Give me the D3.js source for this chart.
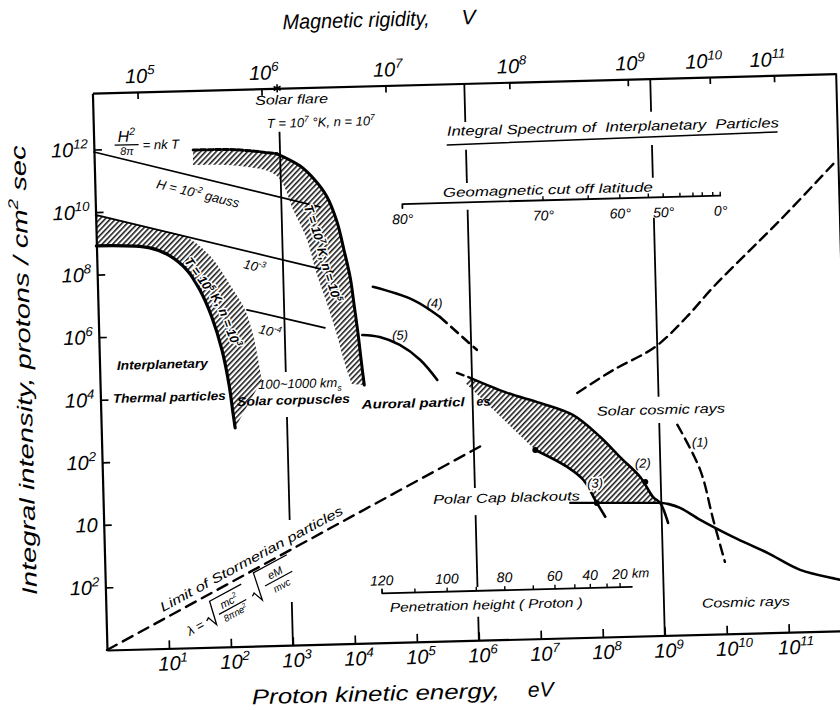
<!DOCTYPE html>
<html><head><meta charset="utf-8">
<script src="https://cdn.jsdelivr.net/npm/d3@7/dist/d3.min.js"></script>
<style>
html,body{margin:0;padding:0;background:#fff;overflow:hidden}
svg{display:block}
text{font-family:'Liberation Sans',Arial,sans-serif;font-style:italic;fill:#000;white-space:pre}
</style></head><body>
<svg id="chart" width="840" height="710" xmlns="http://www.w3.org/2000/svg"></svg>
<script>
// ================= DATA (log10 E [eV], log10 I [protons/cm2 sec]) =================
const bottomTickExps = [1,2,3,4,5,6,7,8,9,10,11];
const leftTickExps   = [12,10,8,6,4,2,0,-2];
const leftTickLabels = ["10^{12}","10^{10}","10^{8}","10^{6}","10^{4}","10^{2}","10","10^{2}"];
const rigidityTicks  = [1e5,1e6,1e7,1e8,1e9,1e10,1e11];
const rigidityLabels = ["10^{5}","10^{6}","10^{7}","10^{8}","10^{9}","10^{10}","10^{11}"];
const PROTON_MASS_EV = 938.272e6;

const thermalCurve = [[0,8.92],[0.86,8.81],[1.18,8.54],[1.45,8.07],[1.65,7.42],[1.83,6.55],[1.98,5.49],[2.08,4.37],[2.13,3.50],[2.16,2.99]];
const thermalBandOuter = [[0,9.91],[0.8,9.48],[1.45,9.13],[1.83,8.50],[2.17,7.46],[2.37,6.75],[2.49,5.94],[2.56,5.14],[2.61,4.50]];
const thermalBandText = [[1.39,8.40],[1.70,7.49],[1.90,6.93],[2.05,6.12],[2.20,5.32],[2.28,4.6]];
const corpuscleBandOuter = [[1.60,11.90],[2.31,11.87],[2.95,11.71],[3.32,11.30],[3.55,10.84],[3.74,10.29],[3.89,9.48],[3.99,8.58],[4.08,7.68],[4.13,6.82],[4.18,5.92],[4.22,5.05],[4.26,4.25]];
const corpuscleBandInner = [[4.06,4.29],[3.96,4.91],[3.83,5.94],[3.69,6.90],[3.53,7.90],[3.40,8.93],[3.20,9.84],[2.94,11.0],[2.35,11.35],[1.59,11.42]];
const corpuscleBandText = [[3.35,10.05],[3.50,9.09],[3.64,7.96],[3.78,7.0],[3.91,5.87],[3.98,5.23],[4.02,4.6]];
const fieldLines = [[[0,11.92],[3.62,9.98]], [[0,9.91],[3.80,7.89]], [[2.40,6.75],[3.65,6.11]]];
const curve4Solid  = [[4.44,7.38],[5.08,6.93],[5.51,6.36]];
const curve4Dashed = [[5.51,6.36],[6.09,5.28]];
const curve5 = [[4.25,5.85],[4.53,5.77],[4.85,5.50],[5.17,5.01],[5.44,4.35]];
const auroralUpperDash = [[5.76,4.56],[5.95,4.41]];
const auroralUpper = [[5.97,4.39],[6.56,3.88],[7.09,3.53],[7.61,3.12],[8.04,2.40],[8.35,1.74],[8.67,1.08],[8.87,0.43],[8.98,0.24],[9.10,-0.41]];
const auroralHatchCorner = [5.89,4.23];
const curve3 = [[6.99,2.03],[7.50,1.46],[7.75,1.04],[7.96,0.29],[8.09,-0.16]];
const plateau = [[7.53,0.31],[8.98,0.24]];
const cosmicRays = [[8.98,0.24],[9.12,0.19],[9.30,0.06],[9.62,-0.34],[10.14,-0.91],[10.69,-1.45],[11.21,-2.02],[11.85,-2.37],[12,-2.45]];
const curve1 = [[9.29,2.72],[9.64,1.26],[9.83,-0.35],[10.0,-1.70]];
const stormerLimit = [[0,-4],[6.2,2.29]];
const solarCosmicUpper = [[7.69,3.82],[8.28,4.52],[8.97,5.23],[9.49,6.16],[9.93,7.09],[10.49,8.15],[11.04,9.18],[11.95,10.99]];
const markedPoints = [[6.99,2.03],[7.96,0.29],[8.75,0.92]];
const solarFlarePoint = [2.98,13.8];
const latitudeDeg  = [80,70,65,60,55,50,45,40,30,20,0];
const latitudeLogE = [4.95,7.22,7.95,8.46,8.92,9.16,9.43,9.64,9.79,9.96,10.08];
const latitudeLabeled = [80,70,60,50,0];
const latitudeLevel = 10.0;
const penetrationKm   = [120,110,100,90,80,70,60,50,40,30,20];
const penetrationLogE = [4.46,4.99,5.51,5.98,6.44,6.90,7.25,7.57,7.82,8.09,8.30];
const penetrationLabeled = [120,100,80,60,40,20];
const penetrationLevel = -2.42;
const penetrationEnd = 8.49;
const dividerLines = [
  {e:3, segs:[[12.41,4.73],[3.29,0.0],[-2.62,-4]]},
  {e:6, segs:[[13.8,12.57],[11.68,10.62],[9.76,0.87],[0.0,-2.30],[-3.25,-4]]},
  {e:9, segs:[[13.8,12.74],[11.68,10.63],[9.35,3.63],[2.79,-4]]}
];
const rightFrameBottom = 5.71;

// ================= SCALES =================
const W = 744, H = 557;
const x = d3.scaleLog().domain([1, 1e12]).range([0, W]);
const y = d3.scaleLog().domain([1e-4, Math.pow(10, 13.8)]).range([H, 0]);
const X = e => x(Math.pow(10, e)), Y = i => y(Math.pow(10, i));
const pt = d => `${X(d[0])},${Y(d[1])}`;
const L = (pts, curve) => d3.line().x(d => X(d[0])).y(d => Y(d[1]))
  .curve(curve || d3.curveCatmullRom.alpha(0.5))(pts);
const rigidityToEnergy = R => R*R / (Math.sqrt(R*R + PROTON_MASS_EV*PROTON_MASS_EV) + PROTON_MASS_EV);

const svg = d3.select("#chart");
svg.append("rect").attr("width",840).attr("height",710).attr("fill","#fff");
const defs = svg.append("defs");
const pat = defs.append("pattern").attr("id","hatch").attr("patternUnits","userSpaceOnUse")
  .attr("width",3.8).attr("height",3.8).attr("patternTransform","rotate(45)");
pat.append("rect").attr("width",3.8).attr("height",3.8).attr("fill","#fff");
pat.append("line").attr("x1",0.8).attr("y1",0).attr("x2",0.8).attr("y2",3.8).attr("stroke","#000").attr("stroke-width",1.4);

const g = svg.append("g").attr("transform", `rotate(-1.5,107,650) translate(107,${650-H})`);

function strokePath(d, w, dash) {
  return g.append("path").attr("d", d).attr("fill","none").attr("stroke","#000")
    .attr("stroke-width", w).attr("stroke-linecap","round").attr("stroke-linejoin","round")
    .attr("stroke-dasharray", dash || null);
}
function parseRich(s) {
  const parts = []; const re = /([\^_])\{([^}]*)\}/g; let last = 0, m;
  while ((m = re.exec(s))) {
    if (m.index > last) parts.push({t: s.slice(last, m.index)});
    parts.push({t: m[2], k: m[1] === "^" ? "sup" : "sub"});
    last = re.lastIndex;
  }
  if (last < s.length) parts.push({t: s.slice(last)});
  return parts;
}
function richText(sel, s, fs) {
  let shift = 0;
  parseRich(s).forEach(p => {
    const target = p.k === "sup" ? -0.42*fs : p.k === "sub" ? 0.3*fs : 0;
    const ts = sel.append("tspan").text(p.t);
    if (target - shift !== 0) ts.attr("dy", target - shift);
    if (p.k) ts.attr("font-size", fs*0.66);
    shift = target;
  });
  return sel;
}
function addText(px, py, s, o) {
  o = o || {};
  const make = halo => {
    const t = g.append("text").attr("font-size", o.fs || 13)
      .attr("text-anchor", o.anchor || "start")
      .attr("transform", `translate(${px},${py})` + (o.rot ? ` rotate(${o.rot})` : ""));
    if (o.bold) t.attr("font-weight","bold");
    if (o.len) t.attr("textLength", o.len).attr("lengthAdjust","spacingAndGlyphs");
    if (halo) t.style("fill","#fff").style("stroke","#fff").attr("stroke-width",3.5).attr("stroke-linejoin","round");
    richText(t, s, o.fs || 13);
    return t;
  };
  if (o.halo) make(true);
  return make(false);
}

// ================= HATCHED AREAS =================
g.append("path").attr("fill","url(#hatch)")
  .attr("d", L(thermalBandOuter) + L(thermalCurve.slice().reverse()).replace(/^M/,"L") + "Z");
g.append("path").attr("fill","url(#hatch)")
  .attr("d", L(corpuscleBandOuter) + L(corpuscleBandInner).replace(/^M/,"L") + "Z");
g.append("path").attr("fill","url(#hatch)")
  .attr("d", "M" + pt(auroralHatchCorner) + L(auroralUpper.slice(0,9)).replace(/^M/,"L")
    + "L" + pt(curve3[3]) + L(curve3.slice(0,4).reverse()).replace(/^M/,"L") + "Z");

// ================= FRAME & AXES =================
const axB = g.append("g").attr("transform",`translate(0,${H})`)
  .call(d3.axisBottom(x).tickValues(bottomTickExps.map(e => Math.pow(10,e))).tickSizeInner(-8).tickSizeOuter(0).tickFormat(() => ""));
const axL = g.append("g")
  .call(d3.axisLeft(y).tickValues(leftTickExps.map(e => Math.pow(10,e))).tickSizeInner(-8).tickSizeOuter(0).tickFormat(() => ""));
const topE = rigidityTicks.map(rigidityToEnergy);
const axT = g.append("g")
  .call(d3.axisTop(x).tickValues(topE).tickSizeInner(-7).tickSizeOuter(0).tickFormat(() => ""));
[axB, axL, axT].forEach(a => {
  a.select(".domain").attr("stroke","#000").attr("stroke-width",2.2);
  a.selectAll(".tick line").attr("stroke","#000").attr("stroke-width",1.7);
  a.selectAll(".tick text").remove();
});
g.append("line").attr("x1",W).attr("x2",W).attr("y1",0).attr("y2",Y(rightFrameBottom))
  .attr("stroke","#000").attr("stroke-width",2);

bottomTickExps.forEach(e => addText(X(e) - 11, H + 22, "10^{" + e + "}", {fs:20}));
leftTickExps.forEach((e, k) => addText(-6, Y(e) + 7, leftTickLabels[k], {fs:20, anchor:"end"}));
topE.forEach((E, k) => addText(x(E) - (rigidityLabels[k].length > 6 ? 24 : 12), -9, rigidityLabels[k], {fs:20}));

addText(192, -59, "Magnetic rigidity,", {fs:21, len:147});
addText(371, -59, "V", {fs:21});
addText(143.6, H + 58, "Proton kinetic energy,", {fs:21, len:248});
addText(419.6, H + 58, "eV", {fs:21});
g.append("text").attr("font-size",21).attr("transform",`translate(-68.6,${H-56.8}) rotate(-90)`)
  .attr("textLength",450).attr("lengthAdjust","spacingAndGlyphs")
  .call(t => richText(t, "Integral intensity, protons / cm^{2} sec", 21));

// ================= VERTICAL DIVIDERS =================
dividerLines.forEach(v => v.segs.forEach(s =>
  g.append("line").attr("x1",X(v.e)).attr("x2",X(v.e)).attr("y1",Y(s[0])).attr("y2",Y(s[1]))
    .attr("stroke","#000").attr("stroke-width",1.8)));

// ================= CURVES =================
fieldLines.forEach(p => strokePath(L(p, d3.curveLinear), 1.7));
strokePath(L(thermalCurve), 3.2);
strokePath(L(corpuscleBandOuter.slice(0,3)), 3, "5,2.5");
strokePath(L(corpuscleBandOuter.slice(2)), 3);
strokePath(L(curve4Solid), 2.6);
strokePath(L(curve4Dashed, d3.curveLinear), 2.6, "9,6");
strokePath(L(curve5), 2.6);
strokePath(L(auroralUpperDash, d3.curveLinear), 2.4, "7,5");
strokePath(L(auroralUpper), 2.6);
strokePath(L(curve3), 2.6);
strokePath(L(plateau, d3.curveLinear), 2.2);
strokePath(L(cosmicRays), 2.6);
strokePath(L(curve1), 2.4, "10,6");
strokePath(L(stormerLimit, d3.curveLinear), 2.4, "11,7");
strokePath(L(solarCosmicUpper), 2.4, "10,6");
markedPoints.forEach(d => g.append("circle").attr("cx",X(d[0])).attr("cy",Y(d[1])).attr("r",3).attr("fill","#000"));
g.append("path").attr("d", d3.symbol().type(d3.symbolAsterisk).size(45)())
  .attr("transform",`translate(${X(solarFlarePoint[0])},${Y(solarFlarePoint[1])})`)
  .attr("stroke","#000").attr("stroke-width",1.6);

// ================= SCALES INSIDE PLOT =================
strokePath(`M${X(latitudeLogE[0])},${Y(latitudeLevel)+4}L${X(latitudeLogE[0])},${Y(latitudeLevel)}L${X(latitudeLogE[latitudeLogE.length-1])},${Y(latitudeLevel)}`, 1.8);
latitudeLogE.forEach((e,k) => {
  if (k > 0) g.append("line").attr("x1",X(e)).attr("x2",X(e)).attr("y1",Y(latitudeLevel)).attr("y2",Y(latitudeLevel)-4).attr("stroke","#000").attr("stroke-width",1.4);
  if (latitudeLabeled.includes(latitudeDeg[k])) addText(X(e), Y(latitudeLevel) + 20, latitudeDeg[k] + "°", {fs:14, anchor:"middle"});
});
strokePath(`M${X(penetrationLogE[0])},${Y(penetrationLevel)-4}L${X(penetrationLogE[0])},${Y(penetrationLevel)}L${X(penetrationEnd)},${Y(penetrationLevel)}`, 1.8);
penetrationLogE.forEach((e,k) => {
  if (k > 0) g.append("line").attr("x1",X(e)).attr("x2",X(e)).attr("y1",Y(penetrationLevel)).attr("y2",Y(penetrationLevel)-4).attr("stroke","#000").attr("stroke-width",1.4);
  if (penetrationLabeled.includes(penetrationKm[k])) addText(X(e), Y(penetrationLevel) - 8, String(penetrationKm[k]), {fs:14, anchor:"middle"});
});
addText(X(penetrationLogE[penetrationLogE.length-1]) + 12, Y(penetrationLevel) - 9, "km", {fs:13});

// ================= ANNOTATIONS =================
const P = (e,i) => [X(e), Y(i)];
function at(e, i, s, o) { const p = P(e,i); return addText(p[0], p[1], s, o); }
at(2.62, 13.29, "Solar flare", {fs:13, len:73});
at(2.80, 12.54, "T = 10^{7} °K, n = 10^{7}", {fs:13});
(function(){
  const p = P(0.53, 12.12);
  const f = g.append("g").attr("transform",`translate(${p[0]},${p[1]})`);
  f.append("text").attr("font-size",16).attr("text-anchor","middle").attr("x",0).attr("y",-3).call(t => richText(t,"H^{2}",16));
  f.append("line").attr("x1",-12).attr("x2",12).attr("y1",0).attr("y2",0).attr("stroke","#000").attr("stroke-width",1.3);
  f.append("text").attr("font-size",11).attr("text-anchor","middle").attr("x",0).attr("y",10).text("8π");
  f.append("text").attr("font-size",13).attr("x",16).attr("y",5).text("= nk T");
})();
at(0.98, 10.72, "H = 10^{-2} gauss", {fs:13, rot:15});
at(2.35, 8.09, "10^{-3}", {fs:13, rot:15});
at(2.57, 6.00, "10^{-4}", {fs:13, rot:15});
at(0.28, 4.94, "Interplanetary", {fs:12.5, len:91, bold:true});
at(0.20, 3.89, "Thermal particles", {fs:12.5, len:113, bold:true});
at(2.20, 3.69, "Solar corpuscles", {fs:12.5, len:113, bold:true});
at(2.55, 4.21, "100~1000 km_{s}", {fs:13});
at(4.21, 3.49, "Auroral particl", {fs:12.5, len:103, bold:true});
at(6.06, 3.49, "es", {fs:12.5, bold:true});
at(4.73, 5.67, "(5)", {fs:13});
at(5.30, 6.66, "(4)", {fs:13});
at(5.70, 12.14, "Integral Spectrum of  Interplanetary  Particles", {fs:13.5, len:332});
strokePath(L([[5.70,11.85],[11.02,11.99]], d3.curveLinear), 1.6);
at(5.61, 10.19, "Geomagnetic cut off latitude", {fs:13, len:210});
at(8.00, 3.07, "Solar cosmic rays", {fs:13, len:128});
at(8.59, 1.38, "(2)", {fs:13});
at(7.81, 0.78, "(3)", {fs:13, halo:true});
at(9.52, 2.00, "(1)", {fs:13});
at(5.32, 0.39, "Polar Cap blackouts", {fs:13, len:147});
at(9.61, -3.15, "Cosmic rays", {fs:13, len:88});
at(4.58, -3.02, "Penetration height ( Proton )", {fs:13, len:193});
at(0.92, -2.83, "Limit of Stormerian particles", {fs:13, len:206, rot:-27});

// text along hatched bands (paths in the same user space as the plot group)
defs.append("path").attr("id","tp1").attr("d", L(thermalBandText));
defs.append("path").attr("id","tp2").attr("d", L(corpuscleBandText));
[["tp1","T = 10^{5} K, n = 10^{3}"],["tp2","T = 10^{7} K, n = 10^{5}"]].forEach(([id, s]) => {
  [true, false].forEach(halo => {
    const t = g.append("text").attr("font-size",12.5).attr("font-weight","bold");
    if (halo) t.style("fill","#fff").style("stroke","#fff").attr("stroke-width",3).attr("stroke-linejoin","round");
    else t.style("fill","#000");
    const tp = t.append("textPath").attr("href","#"+id).attr("startOffset",2);
    richText(tp, s, 12.5);
  });
});

// Stormer formula
(function(){
  const p = P(1.34, -3.62);
  const f = g.append("g").attr("transform",`translate(${p[0]},${p[1]}) rotate(-27)`);
  f.append("text").attr("font-size",13).attr("x",0).attr("y",0).text("λ =");
  f.append("path").attr("d","M22,-5 L25,-7 L29,3 L34,-21 L70,-21").attr("fill","none").attr("stroke","#000").attr("stroke-width",1.3);
  f.append("text").attr("font-size",11).attr("text-anchor","middle").attr("x",51).attr("y",-8).call(t => richText(t,"mc^{2}",11));
  f.append("line").attr("x1",36).attr("x2",67).attr("y1",-5).attr("y2",-5).attr("stroke","#000").attr("stroke-width",1.2);
  f.append("text").attr("font-size",9.5).attr("text-anchor","middle").attr("x",51).attr("y",5).call(t => richText(t,"8πne^{2}",9.5));
  f.append("path").attr("d","M74,-5 L77,-7 L81,3 L86,-25 L124,-25").attr("fill","none").attr("stroke","#000").attr("stroke-width",1.3);
  f.append("text").attr("font-size",11).attr("text-anchor","middle").attr("x",105).attr("y",-11).text("eM");
  f.append("line").attr("x1",90).attr("x2",121).attr("y1",-8).attr("y2",-8).attr("stroke","#000").attr("stroke-width",1.2);
  f.append("text").attr("font-size",10).attr("text-anchor","middle").attr("x",105).attr("y",3).text("mvc");
})();
</script>
</body></html>
